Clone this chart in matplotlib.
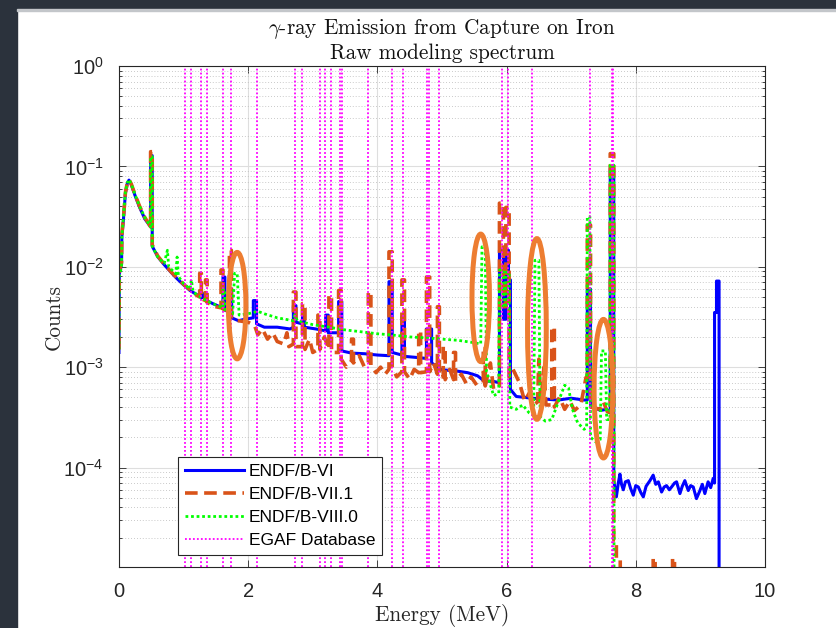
import numpy as np
import matplotlib
matplotlib.use("Agg")
import matplotlib.pyplot as plt
from matplotlib.patches import Ellipse, Rectangle

# spectra: (energy MeV, counts), 1e-6 = empty bin (below the axis)
endf6 = np.array([
    (0.000, 1.4e-3), (0.005, 8.5e-3), (0.040, 1.05e-2), (0.045, 2.0e-2), (0.070, 3.0e-2),
    (0.100, 5.4e-2), (0.130, 6.8e-2), (0.155, 7.3e-2), (0.190, 6.6e-2), (0.250, 5.1e-2),
    (0.320, 3.9e-2), (0.400, 3.0e-2), (0.490, 2.5e-2), (0.490, 1.28e-1), (0.515, 1.28e-1),
    (0.515, 1.6e-2), (0.600, 1.26e-2), (0.700, 1.05e-2), (0.800, 8.9e-3), (0.900, 7.6e-3),
    (1.000, 6.6e-3), (1.100, 5.8e-3), (1.200, 5.3e-3), (1.280, 4.9e-3), (1.300, 5.4e-3),
    (1.330, 4.7e-3), (1.450, 4.3e-3), (1.600, 3.9e-3), (1.610, 3.9e-3), (1.610, 7.9e-3),
    (1.640, 7.9e-3), (1.640, 3.7e-3), (1.715, 3.5e-3), (1.715, 6.0e-3), (1.745, 6.0e-3),
    (1.745, 3.1e-3), (1.850, 2.9e-3), (1.950, 3.0e-3), (2.080, 3.1e-3), (2.080, 4.6e-3),
    (2.130, 4.6e-3), (2.130, 2.7e-3), (2.250, 2.5e-3), (2.450, 2.5e-3), (2.650, 2.4e-3),
    (2.700, 2.5e-3), (2.700, 4.1e-3), (2.740, 4.1e-3), (2.740, 2.8e-3), (2.840, 2.7e-3),
    (2.840, 3.3e-3), (2.870, 3.3e-3), (2.870, 2.5e-3), (3.050, 2.4e-3), (3.200, 2.3e-3),
    (3.200, 3.3e-3), (3.240, 3.3e-3), (3.240, 2.2e-3), (3.400, 2.2e-3), (3.400, 4.5e-3),
    (3.450, 4.5e-3), (3.450, 1.45e-3), (3.600, 1.38e-3), (3.800, 1.36e-3), (4.000, 1.32e-3),
    (4.180, 1.30e-3), (4.180, 7.1e-3), (4.230, 7.1e-3), (4.230, 1.40e-3), (4.380, 1.32e-3),
    (4.380, 3.2e-3), (4.420, 3.2e-3), (4.420, 1.28e-3), (4.600, 1.25e-3), (4.760, 1.22e-3),
    (4.760, 2.4e-3), (4.840, 2.4e-3), (4.840, 1.10e-3), (5.000, 9.4e-4), (5.200, 9.2e-4),
    (5.400, 8.8e-4), (5.550, 8.2e-4), (5.650, 7.3e-4), (5.800, 7.2e-4), (5.890, 7.0e-4),
    (5.890, 1.46e-2), (5.950, 1.46e-2), (5.950, 3.0e-3), (5.990, 3.0e-3), (5.990, 1.46e-2),
    (6.030, 1.46e-2), (6.030, 7.4e-3), (6.060, 7.4e-3), (6.060, 6.0e-4), (6.150, 5.1e-4),
    (6.400, 4.9e-4), (6.600, 4.8e-4), (6.800, 4.7e-4), (7.000, 4.9e-4), (7.200, 4.7e-4),
    (7.250, 4.7e-4), (7.250, 6.0e-3), (7.300, 6.0e-3), (7.300, 4.2e-4), (7.450, 3.7e-4),
    (7.550, 3.8e-4), (7.605, 3.5e-4), (7.605, 9.5e-2), (7.660, 9.5e-2), (7.660, 7.4e-5),
    (7.700, 5.1e-5), (7.730, 7.0e-5), (7.755, 8.6e-5), (7.780, 6.8e-5), (7.807, 6.0e-5),
    (7.840, 7.2e-5), (7.885, 7.4e-5), (7.920, 6.2e-5), (7.962, 5.3e-5), (8.000, 6.6e-5),
    (8.040, 6.4e-5), (8.080, 5.6e-5), (8.117, 5.1e-5), (8.160, 6.5e-5), (8.220, 7.4e-5),
    (8.270, 8.4e-5), (8.310, 6.8e-5), (8.350, 7.2e-5), (8.400, 5.7e-5), (8.440, 6.4e-5),
    (8.477, 6.6e-5), (8.520, 6.0e-5), (8.555, 6.4e-5), (8.600, 7.0e-5), (8.632, 7.2e-5),
    (8.684, 5.5e-5), (8.720, 6.5e-5), (8.760, 7.4e-5), (8.813, 5.9e-5), (8.850, 6.6e-5),
    (8.890, 6.4e-5), (8.940, 4.9e-5), (8.994, 5.9e-5), (9.030, 6.8e-5), (9.070, 5.5e-5),
    (9.120, 7.2e-5), (9.160, 6.3e-5), (9.200, 7.8e-5), (9.220, 7.0e-5), (9.220, 3.5e-3),
    (9.250, 3.5e-3), (9.250, 7.2e-3), (9.290, 7.2e-3), (9.290, 1e-6),
])

endf71 = np.array([
    (0.000, 1.5e-3), (0.005, 9.0e-3), (0.040, 1.1e-2), (0.045, 2.1e-2), (0.070, 3.1e-2),
    (0.100, 5.5e-2), (0.130, 6.9e-2), (0.155, 7.4e-2), (0.190, 6.7e-2), (0.250, 5.2e-2),
    (0.320, 4.0e-2), (0.400, 3.1e-2), (0.490, 2.5e-2), (0.490, 1.40e-1), (0.515, 1.40e-1),
    (0.515, 1.65e-2), (0.600, 1.28e-2), (0.700, 1.06e-2), (0.800, 9.0e-3), (0.900, 7.7e-3),
    (1.000, 6.7e-3), (1.100, 5.9e-3), (1.200, 5.2e-3), (1.250, 5.0e-3), (1.250, 8.6e-3),
    (1.275, 8.6e-3), (1.275, 4.8e-3), (1.340, 4.6e-3), (1.340, 7.4e-3), (1.365, 7.4e-3),
    (1.365, 4.4e-3), (1.500, 4.0e-3), (1.580, 3.9e-3), (1.580, 9.3e-3), (1.610, 9.3e-3),
    (1.610, 3.8e-3), (1.710, 3.6e-3), (1.710, 1.46e-2), (1.740, 1.46e-2), (1.740, 3.0e-3),
    (1.850, 2.9e-3), (2.000, 2.8e-3), (2.100, 2.6e-3), (2.150, 2.1e-3), (2.220, 2.4e-3),
    (2.300, 1.9e-3), (2.380, 2.2e-3), (2.450, 1.8e-3), (2.550, 1.7e-3), (2.600, 2.2e-3),
    (2.630, 1.6e-3), (2.700, 1.7e-3), (2.700, 5.6e-3), (2.740, 5.6e-3), (2.740, 1.6e-3),
    (2.840, 1.6e-3), (2.840, 4.3e-3), (2.880, 4.3e-3), (2.880, 1.5e-3), (2.950, 1.9e-3),
    (3.000, 1.4e-3), (3.080, 1.5e-3), (3.080, 3.3e-3), (3.110, 3.3e-3), (3.110, 1.5e-3),
    (3.180, 2.0e-3), (3.250, 1.5e-3), (3.250, 5.2e-3), (3.290, 5.2e-3), (3.290, 1.4e-3),
    (3.400, 1.4e-3), (3.400, 5.8e-3), (3.440, 5.8e-3), (3.440, 1.2e-3), (3.520, 1.0e-3),
    (3.600, 1.15e-3), (3.600, 1.9e-3), (3.630, 1.9e-3), (3.630, 1.1e-3), (3.720, 1.3e-3),
    (3.800, 1.0e-3), (3.860, 1.1e-3), (3.860, 5.6e-3), (3.900, 5.6e-3), (3.900, 1.05e-3),
    (3.980, 8.8e-4), (4.050, 1.0e-3), (4.120, 8.5e-4), (4.180, 9.5e-4), (4.180, 1.41e-2),
    (4.230, 1.41e-2), (4.230, 1.0e-3), (4.300, 8.0e-4), (4.380, 9.0e-4), (4.380, 7.4e-3),
    (4.420, 7.4e-3), (4.420, 9.0e-4), (4.500, 7.6e-4), (4.570, 9.5e-4), (4.640, 8.8e-4),
    (4.640, 2.3e-3), (4.670, 2.3e-3), (4.670, 8.8e-4), (4.760, 9.0e-4), (4.760, 7.9e-3),
    (4.810, 7.9e-3), (4.810, 9.0e-4), (4.870, 1.1e-3), (4.930, 8.5e-4), (4.930, 4.0e-3),
    (4.960, 4.0e-3), (4.960, 8.0e-4), (5.020, 8.0e-4), (5.020, 1.6e-3), (5.050, 1.6e-3),
    (5.050, 7.5e-4), (5.120, 9.5e-4), (5.180, 7.5e-4), (5.180, 1.4e-3), (5.210, 1.4e-3),
    (5.210, 7.3e-4), (5.300, 8.5e-4), (5.380, 6.8e-4), (5.450, 8.0e-4), (5.540, 6.6e-4),
    (5.640, 7.0e-4), (5.640, 1.6e-3), (5.670, 1.6e-3), (5.670, 6.5e-4), (5.750, 1.1e-3),
    (5.800, 6.0e-4), (5.890, 6.5e-4), (5.890, 4.3e-2), (5.950, 4.3e-2), (5.950, 4.0e-3),
    (5.990, 4.0e-3), (5.990, 3.9e-2), (6.040, 3.9e-2), (6.040, 8.0e-4), (6.100, 9.5e-4),
    (6.200, 7.0e-4), (6.280, 4.6e-4), (6.350, 5.5e-4), (6.420, 4.2e-4), (6.480, 4.5e-4),
    (6.500, 1.2e-3), (6.530, 4.5e-4), (6.580, 1.0e-3), (6.610, 4.2e-4), (6.700, 4.2e-4),
    (6.700, 2.5e-3), (6.740, 2.5e-3), (6.740, 4.0e-4), (6.820, 5.0e-4), (6.900, 3.8e-4),
    (6.980, 4.6e-4), (7.050, 3.7e-4), (7.150, 4.2e-4), (7.230, 7.9e-4), (7.250, 7.9e-4),
    (7.250, 2.6e-2), (7.300, 2.6e-2), (7.300, 4.0e-4), (7.450, 3.8e-4), (7.500, 4.5e-4),
    (7.560, 3.6e-4), (7.605, 3.5e-4), (7.605, 1.34e-1), (7.660, 1.34e-1), (7.660, 1.9e-5),
    (7.700, 1.9e-5), (7.700, 1.2e-5), (7.760, 1.2e-5), (7.760, 1e-6), (8.270, 1e-6),
    (8.270, 1.25e-5), (8.300, 1.25e-5), (8.300, 1e-6), (8.570, 1e-6), (8.570, 1.25e-5),
    (8.600, 1.25e-5), (8.600, 1e-6),
])

endf80 = np.array([
    (0.000, 1.5e-3), (0.005, 8.0e-3), (0.040, 1.0e-2), (0.045, 2.0e-2), (0.070, 3.2e-2),
    (0.100, 5.6e-2), (0.130, 6.9e-2), (0.155, 7.4e-2), (0.190, 6.7e-2), (0.250, 5.2e-2),
    (0.320, 4.0e-2), (0.400, 3.1e-2), (0.490, 2.5e-2), (0.490, 1.25e-1), (0.515, 1.25e-1),
    (0.515, 1.6e-2), (0.600, 1.25e-2), (0.700, 1.08e-2), (0.750, 1.46e-2), (0.770, 1.0e-2),
    (0.880, 8.5e-3), (0.900, 1.25e-2), (0.920, 8.0e-3), (1.000, 6.8e-3), (1.100, 6.0e-3),
    (1.120, 7.4e-3), (1.150, 5.6e-3), (1.300, 4.8e-3), (1.450, 4.3e-3), (1.610, 3.9e-3),
    (1.610, 6.0e-3), (1.640, 6.0e-3), (1.640, 3.6e-3), (1.760, 3.4e-3), (1.790, 8.6e-3),
    (1.830, 8.6e-3), (1.860, 3.3e-3), (2.000, 3.4e-3), (2.150, 3.6e-3), (2.250, 3.4e-3),
    (2.450, 3.1e-3), (2.700, 2.9e-3), (2.720, 3.3e-3), (2.760, 2.9e-3), (3.000, 2.65e-3),
    (3.250, 2.5e-3), (3.500, 2.35e-3), (3.750, 2.25e-3), (4.000, 2.15e-3), (4.200, 2.1e-3),
    (4.500, 2.0e-3), (4.800, 1.95e-3), (5.000, 1.9e-3), (5.250, 1.85e-3), (5.500, 1.75e-3),
    (5.600, 1.7e-3), (5.620, 1.58e-2), (5.670, 1.58e-2), (5.690, 9.0e-4), (5.740, 7.0e-4),
    (5.800, 5.2e-4), (5.880, 5.5e-4), (5.890, 9.3e-3), (5.950, 9.3e-3), (5.950, 4.0e-3),
    (5.990, 4.0e-3), (5.990, 8.8e-3), (6.040, 8.8e-3), (6.050, 4.0e-4), (6.150, 3.8e-4),
    (6.250, 4.2e-4), (6.350, 3.5e-4), (6.420, 3.3e-4), (6.440, 1.16e-2), (6.500, 1.16e-2),
    (6.520, 3.2e-4), (6.600, 2.9e-4), (6.700, 3.0e-4), (6.800, 4.5e-4), (6.900, 6.6e-4),
    (6.960, 6.2e-4), (7.020, 3.8e-4), (7.100, 2.8e-4), (7.200, 2.4e-4), (7.240, 2.5e-4),
    (7.250, 3.15e-2), (7.290, 3.15e-2), (7.300, 2.0e-4), (7.380, 1.8e-4), (7.450, 1.9e-4),
    (7.470, 1.45e-3), (7.530, 1.45e-3), (7.550, 3.0e-4), (7.600, 3.0e-4), (7.605, 1.03e-1),
    (7.660, 1.03e-1), (7.665, 1e-6),
])

# EGAF line energies (MeV)
egaf_lines = [1.022, 1.110, 1.265, 1.358, 1.615, 1.729, 2.132, 2.724, 2.837, 3.111,
              3.189, 3.277, 3.421, 3.447, 3.859, 4.221, 4.401, 4.772, 4.803, 4.954,
              5.924, 6.017, 6.389, 7.291, 7.631, 7.646]

# highlighted regions: centre energy, centre counts, width (MeV), height (decades)
mark_e = [1.83, 5.60, 6.47, 7.50]
mark_c = [4.1e-3, 4.9e-3, 2.4e-3, 6.1e-4]
mark_w = [0.27, 0.27, 0.29, 0.29]
mark_h = [1.06, 1.27, 1.80, 1.38]

labels = ['ENDF/B-VI', 'ENDF/B-VII.1', 'ENDF/B-VIII.0', 'EGAF Database']

ymin, ymax = 1.02e-5, 1.0

plt.rcParams['mathtext.fontset'] = 'custom'
plt.rcParams['mathtext.rm'] = 'Liberation Sans'
plt.rcParams['mathtext.it'] = 'Liberation Sans:italic'
plt.rcParams['font.family'] = ['Liberation Sans', 'DejaVu Sans']

fig = plt.figure(figsize=(8.36, 6.28), dpi=100)
fig.patch.set_facecolor('white')
# dark window frame at top and left
fig.add_artist(Rectangle((0, 1 - 9 / 628), 1, 9 / 628, transform=fig.transFigure,
                         color='#2b323c', zorder=0))
fig.add_artist(Rectangle((0, 0), 17 / 836, 1, transform=fig.transFigure,
                         color='#2b323c', zorder=0))
fig.add_artist(Rectangle((17 / 836, 1 - 11 / 628), 1, 2 / 628, transform=fig.transFigure,
                         color='#c3c6ca', zorder=0))

ax = fig.add_axes([0.1423, 0.0971, 0.7727, 0.7978])

ax.semilogy(endf6[:, 0], endf6[:, 1], color='#0000ff', lw=2.2, label=labels[0])
ax.semilogy(endf71[:, 0], endf71[:, 1], color='#d95319', lw=2.6,
            ls=(0, (3.5, 1.8)), label=labels[1])
ax.semilogy(endf80[:, 0], endf80[:, 1], color='#00ff00', lw=2.0,
            ls=(0, (1, 1)), label=labels[2])
for i, e in enumerate(egaf_lines):
    ax.axvline(e, color='#ff00ff', lw=1.3, ls=(0, (1, 1.2)),
               label=labels[3] if i == 0 else None)

# orange rings drawn in axes fraction so they stay elliptical on the log axis
span = np.log10(ymax) - np.log10(ymin)
for e, c, w, h in zip(mark_e, mark_c, mark_w, mark_h):
    fx = e / 10.0
    fy = (np.log10(c) - np.log10(ymin)) / span
    ax.add_patch(Ellipse((fx, fy), w / 10.0, h / span, transform=ax.transAxes,
                         fill=False, ec='#ed7d31', lw=3.6, zorder=5))

ax.set_xlim(0, 10)
ax.set_ylim(ymin, ymax)
ax.set_xticks([0, 2, 4, 6, 8, 10])
ax.set_yticks([1e-4, 1e-3, 1e-2, 1e-1, 1e0])
ax.set_axisbelow(True)
ax.grid(True, which='major', color='#dedede', lw=0.8, ls='-')
ax.grid(True, which='minor', axis='y', color='#b8b8b8', lw=0.6, ls=(0, (1, 2.5)))

ax.tick_params(which='both', direction='in', top=True, right=True, colors='#262626',
               labelsize=14.5, width=0.6)
ax.tick_params(which='major', length=5, pad=11)
ax.tick_params(which='minor', length=2.5)
ax.tick_params(axis='x', which='minor', bottom=False, top=False)
for s in ax.spines.values():
    s.set_color('#262626')
    s.set_linewidth(0.8)

ax.set_title('$\\gamma$-ray Emission from Capture on Iron\nRaw modeling spectrum',
             fontfamily='cmr10', math_fontfamily='cm', fontsize=15.3, pad=5,
             linespacing=1.15, color='#111111')
ax.set_xlabel('Energy (MeV)', fontfamily='cmr10', fontsize=15.3, labelpad=2, color='#262626')
ax.set_ylabel('Counts', fontfamily='cmr10', fontsize=15.3, labelpad=0, color='#262626')

leg = ax.legend(loc='lower left', bbox_to_anchor=(0.091, 0.024), fontsize=12.5,
                handlelength=3.4, handletextpad=0.3, labelspacing=0.45, borderpad=0.4,
                borderaxespad=0, fancybox=False, framealpha=1, edgecolor='#262626')
leg.get_frame().set_linewidth(0.8)
leg.set_zorder(6)

fig.savefig('out.png', dpi=100)
